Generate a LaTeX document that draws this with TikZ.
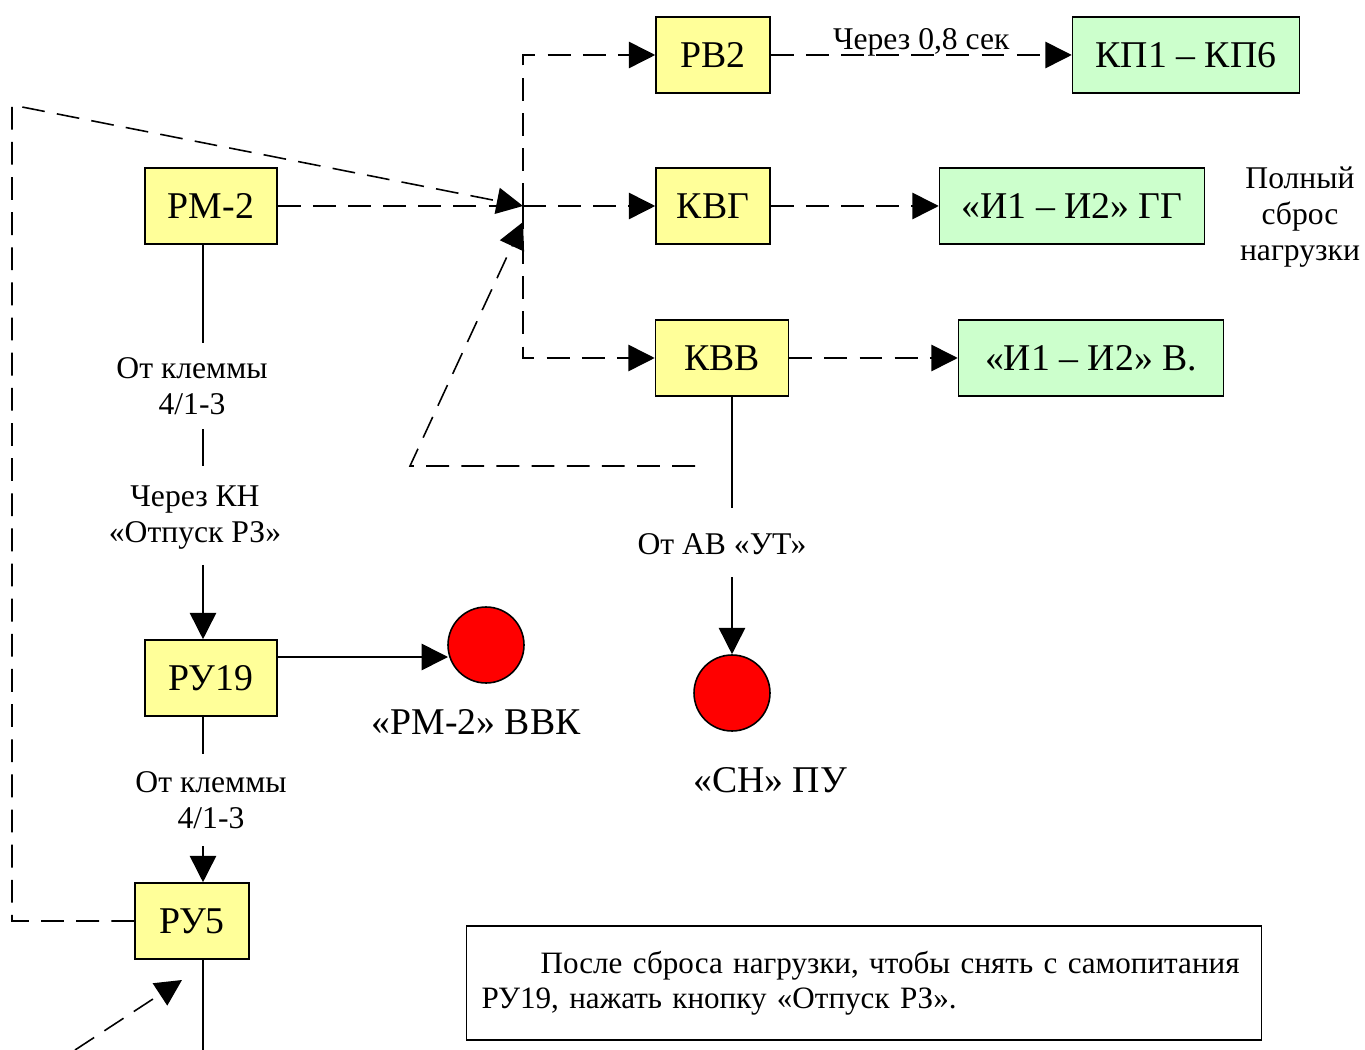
\documentclass[tikz,border=0pt]{standalone}
\usepackage{fontspec}
\setmainfont{Liberation Serif}
\usetikzlibrary{arrows.meta,positioning}

\definecolor{relay}{HTML}{FFFF99}
\definecolor{output}{HTML}{CCFFCC}
\definecolor{lampred}{HTML}{FF0000}

\begin{document}
\begin{tikzpicture}[
    x=0.02cm, y=-0.02cm,
    blk/.style={draw, line width=0.9pt, fill=#1, minimum height=1.52cm,
                minimum width=2.28cm, inner sep=2pt, font=\fontsize{21.5}{24}\selectfont},
    blk/.default={relay},
    lbl/.style={align=center, inner sep=1pt, font=\fontsize{18}{20.5}\selectfont},
    lamp/.style={circle, draw, line width=0.9pt, fill=lampred, minimum size=1.52cm},
    arr/.style={-{Triangle[length=15pt, width=15pt]}},
    dsh/.style={dash pattern=on 13pt off 7pt},
    every path/.style={line width=0.9pt},
]
\useasboundingbox (0,0) rectangle (1365,1050);

% ===== Relay boxes =====
\node[blk]           (rv2)  at (713,55)   {РВ2};
\node[blk=output, minimum width=4.54cm] (kp) at (1186,55) {КП1 – КП6};
\node[blk, minimum width=2.64cm]        (rm2)  at (211,206)  {РМ-2};
\node[blk]           (kvg)  at (713,206)  {КВГ};
\node[blk=output, minimum width=5.3cm]  (igg)  at (1072,206) {«И1 – И2» ГГ};
\node[blk, minimum width=2.66cm]        (kvv)  at (722,358)  {КВВ};
\node[blk=output, minimum width=5.3cm]  (iv)   at (1091,358) {«И1 – И2» В.};
\node[blk, minimum width=2.64cm]        (ru19) at (211,678)  {РУ19};
\node[blk]           (ru5)  at (192,921)  {РУ5};

% ===== Lamps =====
\node[lamp] (lampvvk) at (486,645) {};
\node[lamp] (lampsn)  at (732,693) {};
\node[lbl, font=\fontsize{21.5}{24}\selectfont] (vvk) at (476,722) {«РМ-2» ВВК};
\node[lbl, font=\fontsize{21.5}{24}\selectfont] (sn)  at (770,780) {«СН» ПУ};

% ===== Labels =====
\node[lbl] (klem1) at (192,386) {От клеммы\\4/1-3};
\node[lbl] (kn)    at (195,518) {Через КН\\«Отпуск РЗ»};
\node[lbl] (klem2) at (211,800) {От клеммы\\4/1-3};
\node[lbl] (avut)  at (722,544) {От АВ «УТ»};
\node[lbl] (full)  at (1300,217) {Полный\\сброс\\нагрузки};

% ===== Note =====
\node[draw, line width=0.9pt, minimum width=15.9cm, minimum height=2.28cm,
      text width=15.3cm, align=left, font=\fontsize{17.7}{19.8}\selectfont]
      (note) at (864,983)
      {\hspace*{1.9em}После сброса нагрузки, чтобы снять с самопитания\\РУ19, нажать кнопку «Отпуск РЗ».};

% ===== Helper points =====
\coordinate (j)     at (523,206);
\coordinate (jlow)  at (523,222);
\coordinate (col)   at (203,0);
\coordinate (col2)  at (732,0);
\coordinate (fbtop) at (12,105);
\coordinate (fbbot) at (12,921);
\coordinate (kvtap) at (695,466);
\coordinate (kvleft) at (410,466);
\coordinate (inA)   at (75,1050);
\coordinate (inB)   at (182,980);
\coordinate (ruend) at (203,1050);
\coordinate (vvkin) at (448,657);

% ===== Dashed control lines =====
\draw[dsh] (rm2.east) -- (j);
\draw[dsh, arr] (j) -- (kvg.west);
\draw[dsh, arr] (j) |- (rv2.west);
\draw[dsh, arr] (j) |- (kvv.west);
\draw[dsh, arr] (rv2) -- (kp)
    node[lbl, above=-2pt, midway] {Через 0,8 сек};
\draw[dsh, arr] (kvg) -- (igg);
\draw[dsh, arr] (kvv) -- (iv);
\draw[dsh, arr] (ru5.west) -- (fbbot) -- (fbtop) -- (j);
\draw[dsh, arr] (kvtap) -- (kvleft) -- (jlow);
\draw[dsh, arr] (inA) -- (inB);

% ===== Solid lines =====
\draw (rm2.south -| col) -- ([yshift=0.24cm]klem1.north -| col);
\draw ([yshift=-0.24cm]klem1.south -| col) -- ([yshift=0.35cm]kn.north -| col);
\draw[arr] ([yshift=-0.25cm]kn.south -| col) -- (ru19.north -| col);
\draw (ru19.south -| col) -- ([yshift=0.3cm]klem2.north -| col);
\draw[arr] ([yshift=-0.3cm]klem2.south -| col) -- (ru5.north -| col);
\draw (ru5.south -| col) -- (ruend);
\draw[arr] (ru19.east |- vvkin) -- (vvkin);
\draw (kvv.south -| col2) -- ([yshift=0.45cm]avut.north -| col2);
\draw[arr] ([yshift=-0.4cm]avut.south -| col2) -- (lampsn);

\end{tikzpicture}
\end{document}
